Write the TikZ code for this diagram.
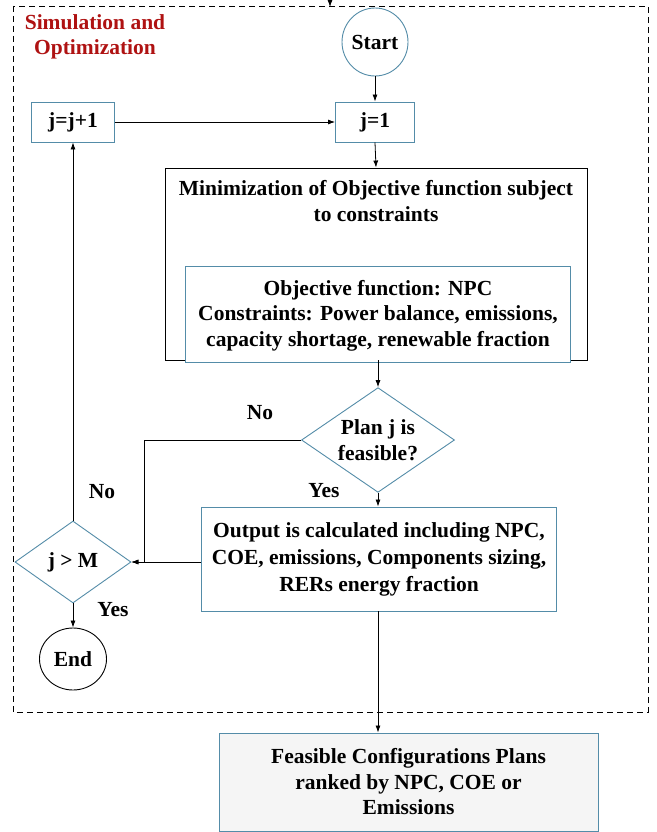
\documentclass[tikz,border=0pt]{standalone}
\usepackage{fontspec}
\setmainfont{Liberation Serif}
\usetikzlibrary{shapes.geometric,arrows.meta}
\definecolor{bord}{RGB}{84,140,168}
\definecolor{titlered}{RGB}{175,18,18}
\definecolor{finfill}{RGB}{245,245,245}
\begin{document}
\begin{tikzpicture}[x=1pt,y=-1pt,
  font=\bfseries\fontsize{21.5}{25.5}\selectfont,
  box/.style={draw=bord, line width=0.9pt, fill=white, align=center, inner sep=0pt},
  term/.style={ellipse, draw=#1, line width=0.9pt, fill=white, inner sep=0pt},
  decide/.style={diamond, draw=bord, line width=0.9pt, fill=white, align=center, inner sep=-4pt},
  arr/.style={-{Latex[length=7pt,width=5pt]}, line width=0.8pt},
  lbl/.style={inner sep=0pt}]
\useasboundingbox (0,0) rectangle (656,832);
% dashed frame
\draw[line width=0.8pt, dash pattern=on 6pt off 4pt] (13,6) rectangle (648,712);
\node[lbl, text=titlered, align=center] (title) at (95,37) {Simulation and\\Optimization};
% nodes
\node[term=bord, minimum width=66pt, minimum height=68pt] (start) at (375,42) {Start};
\node[box, minimum width=79pt, minimum height=40pt] (j1) at (375,122) {j=1};
\node[box, minimum width=83pt, minimum height=40pt] (jj) at (73,122) {j=j+1};
\node[draw=black, line width=0.9pt, fill=white, minimum width=422pt, minimum height=192pt, inner sep=0pt] (minbox) at (376,264) {};
\node[lbl, align=center] (mintext) at (376,201) {Minimization of Objective function subject\\to constraints};
\node[box, minimum width=385pt, minimum height=96pt] (inner) at (378,314) {\strut Objective function: NPC\\Constraints: Power balance, emissions,\\capacity shortage, renewable fraction};
\node[decide, minimum width=153pt, minimum height=100pt] (plan) at (378,440) {Plan j is\\feasible?};
\node[box, minimum width=355pt, minimum height=104pt, font=\bfseries\fontsize{21.5}{27}\selectfont] (output) at (379,559) {Output is calculated including NPC,\\COE, emissions, Components sizing,\\RERs energy fraction};
\node[decide, minimum width=116pt, minimum height=82pt] (jm) at (73,562) {j > M};
\node[term=black, minimum width=67pt, minimum height=62pt] (endn) at (73,659) {End};
\node[box, fill=finfill, minimum width=379pt, minimum height=98pt] (final) at (408.5,782) {Feasible Configurations Plans\\ranked by NPC, COE or\\Emissions};
% labels
\node[lbl] (noa) at (260,413) {No};
\node[lbl] (yesa) at (324,491) {Yes};
\node[lbl] (nob) at (102,492) {No};
\node[lbl] (yesb) at (113,610) {Yes};
% connectors
\coordinate (topin) at (330,0);
\coordinate (topend) at (330,7);
\draw[arr] (topin) -- (topend);
\draw[arr] (start) -- (j1);
\draw[arr] (jj) -- (j1);
\draw[arr] (j1.south) -- (minbox.north);
\draw[arr] (minbox.south -| plan.north) -- (plan.north);
\draw[arr] (plan.south) -- (plan.south |- output.north);
\coordinate (nobend) at (144,440);
\draw[arr] (plan.west) -- (nobend) |- (jm.east);
\draw[arr] (output.west |- jm.east) -- (jm.east);
\draw[arr] (jm.north) -- (jj.south);
\draw[arr] (jm.south) -- (endn.north);
\draw[arr] (output.south -| plan.south) -- (final.north -| plan.south);
\end{tikzpicture}
\end{document}
